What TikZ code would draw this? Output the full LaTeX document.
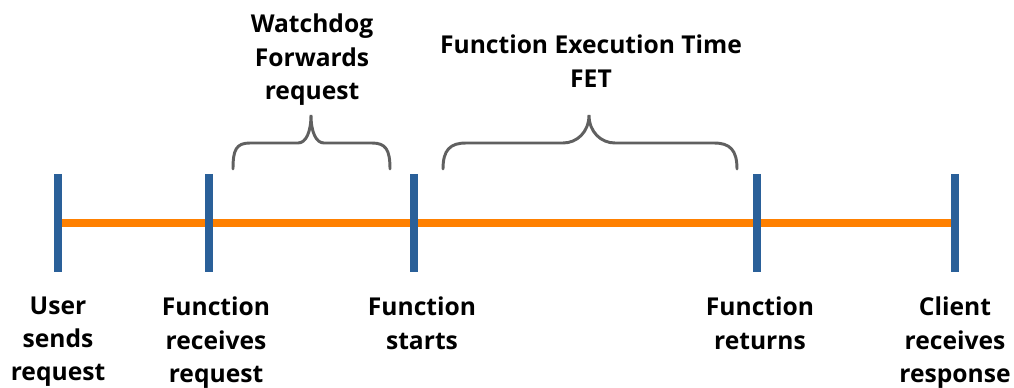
\documentclass[tikz,border=0pt]{standalone}
\usepackage{fontspec}
\setmainfont{Open Sans}
\usetikzlibrary{positioning}
\definecolor{tickblue}{HTML}{2A6099}
\definecolor{lineorange}{HTML}{FF8000}
\definecolor{bracegray}{HTML}{606060}

\begin{document}
\begin{tikzpicture}[x=0.025cm,y=-0.025cm,
        timeline/.style={line width=5.7pt,draw=lineorange},  % ligne du temps
        tickbar/.style={line width=5.7pt,draw=tickblue},     % barres des evenements
        timebrace/.style={line width=2.1pt,draw=bracegray,line cap=round},
        evtlabel/.style={font=\bfseries\fontsize{17.5}{23.5}\selectfont,align=center,anchor=north,inner sep=0pt}
    ]
    \useasboundingbox (0,0) rectangle (1014,388);

    % (1) Les evenements sur la ligne du temps
    \coordinate (user)   at (58,223);
    \coordinate (recv)   at (209,223);
    \coordinate (start)  at (414,223);
    \coordinate (return) at (757,223);
    \coordinate (client) at (955,223);

    \draw[timeline] (user) -- (client);
    \foreach \e in {user,recv,start,return,client}{
        \draw[tickbar] ([yshift=1.225cm]\e) -- ([yshift=-1.225cm]\e);
    }

    % (2) Les etiquettes sous la ligne
    \node[evtlabel] (userlbl)   at (58,297)  {User\\sends\\request};
    \node[evtlabel] (recvlbl)   at (216,297) {Function\\receives\\request};
    \node[evtlabel] (startlbl)  at (422,297) {Function\\starts};
    \node[evtlabel] (returnlbl) at (760,297) {Function\\returns};
    \node[evtlabel] (clientlbl) at (955,297) {Client\\receives\\response};

    % (3) Accolade du watchdog
    \draw[timebrace] (233,169) .. controls (233,150) and (236,143) .. (250,143)
        -- (298,143) .. controls (306,143) and (311,132) .. (311,115)
        .. controls (311,132) and (316,143) .. (324,143)
        -- (372,143) .. controls (386,143) and (390,150) .. (390,169);
    \node[evtlabel] (wdlbl) at (312,14) {Watchdog\\Forwards\\request};

    % (4) Accolade du temps d'execution
    \draw[timebrace] (443,169) .. controls (443,150) and (450,143) .. (466,143)
        -- (563,143) .. controls (577,143) and (589,132) .. (589,115)
        .. controls (589,132) and (601,143) .. (615,143)
        -- (714,143) .. controls (730,143) and (737,150) .. (737,169);
    \node[evtlabel] (fetlbl) at (591,35) {Function Execution Time\\FET};
\end{tikzpicture}
\end{document}
